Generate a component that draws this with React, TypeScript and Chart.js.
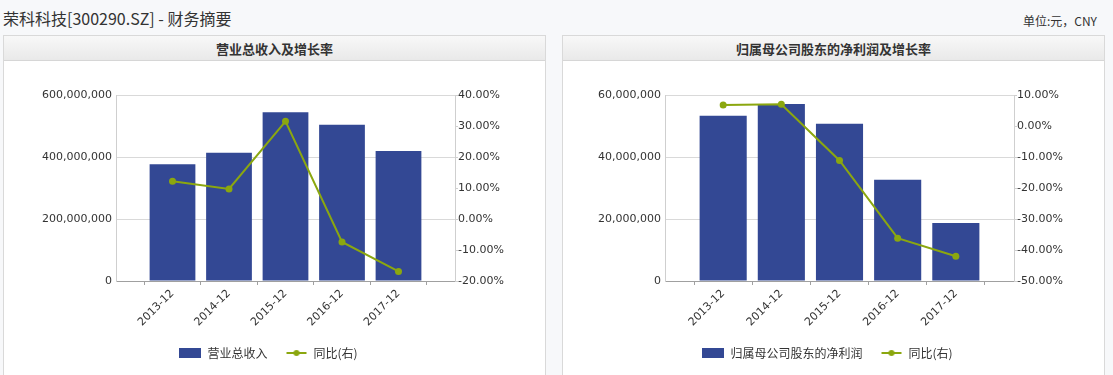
import React, { useEffect, useRef } from 'react';
import { Chart, registerables } from 'chart.js';

Chart.register(...registerables);

// ---- data ----
const categories = ['2013-12', '2014-12', '2015-12', '2016-12', '2017-12'];

const revenue = [377000000, 414000000, 544000000, 504000000, 419000000];
const revenueGrowth = [12.2, 9.7, 31.5, -7.4, -16.9];
const revenueTicks = [0, 200000000, 400000000, 600000000];
const revenueGrowthTicks = [-20, -10, 0, 10, 20, 30, 40];

const netProfit = [53300000, 57100000, 50700000, 32700000, 18700000];
const netProfitGrowth = [6.8, 7.0, -11.1, -36.2, -42.0];
const netProfitTicks = [0, 20000000, 40000000, 60000000];
const netProfitGrowthTicks = [-50, -40, -30, -20, -10, 0, 10];

const BAR_COLOR = '#334894';
const LINE_COLOR = '#8BA70F';
const AXIS_FONT = "Tahoma, 'DejaVu Sans', sans-serif";
const CJK_FONT = "'Microsoft YaHei', 'Noto Sans CJK SC', sans-serif";

function boxSymbol(color: string) {
  const c = document.createElement('canvas');
  c.width = 22;
  c.height = 10;
  const ctx = c.getContext('2d')!;
  ctx.fillStyle = color;
  ctx.fillRect(0, 0, 22, 10);
  return c;
}

function lineSymbol(color: string) {
  const c = document.createElement('canvas');
  c.width = 22;
  c.height = 10;
  const ctx = c.getContext('2d')!;
  ctx.strokeStyle = color;
  ctx.lineWidth = 2;
  ctx.beginPath();
  ctx.moveTo(1, 5);
  ctx.lineTo(21, 5);
  ctx.stroke();
  ctx.fillStyle = color;
  ctx.beginPath();
  ctx.arc(11, 5, 3, 0, Math.PI * 2);
  ctx.fill();
  return c;
}

type ChartProps = {
  barLabel: string;
  bars: number[];
  growth: number[];
  leftTicks: number[];
  rightTicks: number[];
  leftWidth: number;
};

function ComboChart({ barLabel, bars, growth, leftTicks, rightTicks, leftWidth }: ChartProps) {
  const ref = useRef<HTMLCanvasElement>(null);
  useEffect(() => {
    if (!ref.current) return;
    const labels = ['', ...categories, ''];
    const barData = [null, ...bars, null];
    const lineData = [null, ...growth, null];
    const boxImg = boxSymbol(BAR_COLOR);
    const lineImg = lineSymbol(LINE_COLOR);
    const chart = new Chart(ref.current, {
      type: 'bar',
      data: {
        labels,
        datasets: [
          {
            type: 'line',
            label: '同比(右)',
            data: lineData as any,
            yAxisID: 'y1',
            borderColor: LINE_COLOR,
            backgroundColor: LINE_COLOR,
            borderWidth: 2,
            pointRadius: 3.5,
            pointBackgroundColor: LINE_COLOR,
            pointBorderColor: LINE_COLOR,
            pointBorderWidth: 0,
            tension: 0,
            order: 0,
          } as any,
          {
            type: 'bar',
            label: barLabel,
            data: barData as any,
            yAxisID: 'y',
            backgroundColor: BAR_COLOR,
            borderWidth: 0,
            categoryPercentage: 1,
            barPercentage: 0.81,
            order: 1,
          } as any,
        ],
      },
      options: {
        responsive: false,
        animation: false,
        events: [],
        layout: { padding: { top: 34, left: 0, right: 11, bottom: 6 } },
        plugins: {
          tooltip: { enabled: false },
          legend: {
            position: 'bottom',
            labels: {
              usePointStyle: true,
              pointStyleWidth: 22,
              padding: 18,
              color: '#333',
              font: { family: CJK_FONT, size: 12 },
              generateLabels: () => [
                {
                  text: barLabel,
                  pointStyle: boxImg as any,
                  fillStyle: BAR_COLOR,
                  strokeStyle: BAR_COLOR,
                  lineWidth: 0,
                  hidden: false,
                  datasetIndex: 1,
                  fontColor: '#333',
                } as any,
                {
                  text: '同比(右)',
                  pointStyle: lineImg as any,
                  fillStyle: LINE_COLOR,
                  strokeStyle: LINE_COLOR,
                  lineWidth: 0,
                  hidden: false,
                  datasetIndex: 0,
                  fontColor: '#333',
                } as any,
              ],
            },
          },
        },
        scales: {
          x: {
            type: 'category',
            offset: false,
            grid: { drawOnChartArea: false, drawTicks: true, tickLength: 4, color: '#a0a0a0' },
            border: { display: true, color: '#a0a0a0' },
            ticks: {
              autoSkip: false,
              minRotation: 45,
              maxRotation: 45,
              padding: 2,
              color: '#333',
              font: { family: AXIS_FONT, size: 11 },
            },
            afterFit: (s: any) => {
              s.height = 48;
            },
          },
          y: {
            position: 'left',
            min: leftTicks[0],
            max: leftTicks[leftTicks.length - 1],
            grid: { color: '#d9d9d9', drawTicks: false },
            border: { display: true, color: '#cfcfcf' },
            ticks: {
              stepSize: leftTicks[1] - leftTicks[0],
              padding: 4,
              color: '#333',
              font: { family: AXIS_FONT, size: 11 },
              callback: (v: any) => Number(v).toLocaleString('en-US'),
            },
            afterFit: (s: any) => {
              s.width = leftWidth;
            },
          },
          y1: {
            position: 'right',
            min: rightTicks[0],
            max: rightTicks[rightTicks.length - 1],
            grid: { drawOnChartArea: false, drawTicks: true, tickLength: 3, color: '#cfcfcf' },
            border: { display: true, color: '#cfcfcf' },
            ticks: {
              stepSize: rightTicks[1] - rightTicks[0],
              padding: 0,
              color: '#333',
              font: { family: AXIS_FONT, size: 11 },
              callback: (v: any) => Number(v).toFixed(2) + '%',
            },
            afterFit: (s: any) => {
              s.width = 78;
            },
          },
        },
      } as any,
    });
    return () => chart.destroy();
  }, []);
  return <canvas ref={ref} width={540} height={314} style={{ display: 'block', width: 540, height: 314 }} />;
}

function Panel({ left, title, children }: { left: number; title: string; children: React.ReactNode }) {
  return (
    <div
      style={{
        position: 'absolute',
        left,
        top: 35,
        width: 543,
        height: 400,
        boxSizing: 'border-box',
        border: '1px solid #d9d9d9',
        background: '#ffffff',
      }}
    >
      <div
        style={{
          height: 24,
          borderBottom: '1px solid #d6d6d6',
          background: 'linear-gradient(#f8f8f8, #e9e9e9)',
          textAlign: 'center',
          fontFamily: CJK_FONT,
          fontWeight: 'bold',
          fontSize: 13,
          lineHeight: '25px',
          color: '#333',
        }}
      >
        {title}
      </div>
      {children}
    </div>
  );
}

export default function App() {
  return (
    <div
      style={{
        position: 'fixed',
        left: 0,
        top: 0,
        width: 1113,
        height: 375,
        overflow: 'hidden',
        background: '#f7f8fa',
        fontFamily: CJK_FONT,
      }}
    >
      <div style={{ position: 'absolute', left: 3, top: 8, fontSize: 16, lineHeight: '20px', color: '#333', whiteSpace: 'nowrap' }}>
        荣科科技[300290.SZ] - 财务摘要
      </div>
      <div style={{ position: 'absolute', right: 16, top: 13, fontSize: 12, lineHeight: '16px', color: '#333', whiteSpace: 'nowrap' }}>
        单位:元，CNY
      </div>
      <Panel left={3} title="营业总收入及增长率">
        <ComboChart
          barLabel="营业总收入"
          bars={revenue}
          growth={revenueGrowth}
          leftTicks={revenueTicks}
          rightTicks={revenueGrowthTicks}
          leftWidth={112}
        />
      </Panel>
      <Panel left={562} title="归属母公司股东的净利润及增长率">
        <ComboChart
          barLabel="归属母公司股东的净利润"
          bars={netProfit}
          growth={netProfitGrowth}
          leftTicks={netProfitTicks}
          rightTicks={netProfitGrowthTicks}
          leftWidth={102}
        />
      </Panel>
    </div>
  );
}
